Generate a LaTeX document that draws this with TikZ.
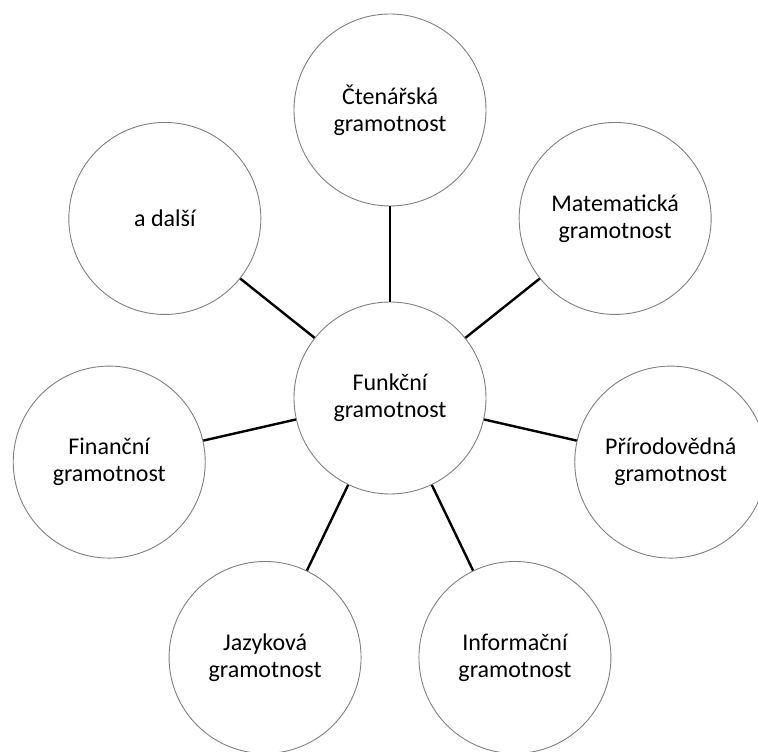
\documentclass[tikz,border=0pt]{standalone}
\usepackage{fontspec}
\setmainfont{Carlito}
\usetikzlibrary{calc}
\begin{document}
\begin{tikzpicture}[x=1pt,y=1pt,
  bubble/.style={circle,draw=black!50,line width=0.9pt,fill=white,
    minimum size=192pt,inner sep=0pt,align=center,
    font=\fontsize{24}{27}\selectfont},
  link/.style={line width=2.4pt,black}]
\useasboundingbox (0,0) rectangle (758,752);
\clip (0,0) rectangle (758,752);
% hub
\node[bubble] (hub) at (390,354) {Funkční\\gramotnost};
% seven satellites, 360/7 degrees apart
\node[bubble] (cten) at ($(hub)+(90:288)$) {Čtenářská\\gramotnost};
\node[bubble] (mat)  at ($(hub)+(38.57:288)$) {Matematická\\gramotnost};
\node[bubble] (prir) at ($(hub)+(-12.86:288)$) {Přírodovědná\\gramotnost};
\node[bubble] (info) at ($(hub)+(-64.29:288)$) {Informační\\gramotnost};
\node[bubble] (jaz)  at ($(hub)+(-115.71:288)$) {Jazyková\\gramotnost};
\node[bubble] (fin)  at ($(hub)+(-167.14:288)$) {Finanční\\gramotnost};
\node[bubble] (dal)  at ($(hub)+(141.43:288)$) {a další};
% spokes
\foreach \n in {cten,mat,prir,info,jaz,fin,dal}
  \draw[link] (hub) -- (\n);
\end{tikzpicture}
\end{document}
